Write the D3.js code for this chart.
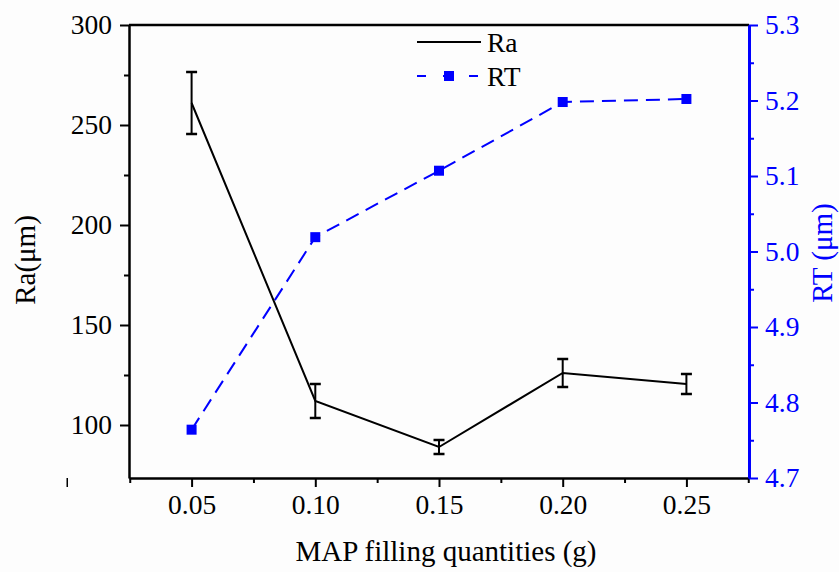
<!DOCTYPE html>
<html>
<head>
<meta charset="utf-8">
<script src="https://cdn.jsdelivr.net/npm/d3@7"></script>
<style>
  body { margin: 0; background: #fdfdfd; }
  svg text { font-family: "Liberation Serif", "Times New Roman", Tinos, "DejaVu Serif", serif !important; }
</style>
</head>
<body>
<svg id="chart" width="839" height="572"></svg>
<script>
// data
const quantities = [0.05, 0.10, 0.15, 0.20, 0.25];
const raValues = [261, 112, 89, 126, 120.5];
const raErrors = [15.5, 8.5, 3.5, 7, 5];
const rtValues = [4.764, 5.019, 5.107, 5.198, 5.202];
const xTicks = [0.05, 0.10, 0.15, 0.20, 0.25];
const raTicks = [100, 150, 200, 250, 300];
const rtTicks = [4.7, 4.8, 4.9, 5.0, 5.1, 5.2, 5.3];

const svg = d3.select('#chart');
const plotL = 129, plotR = 749, plotT = 25, plotB = 478;
const blue = '#0000ff';
const fs = 27.5, titleFs = 29;

const x = d3.scaleLinear().domain([0.0247, 0.2753]).range([plotL, plotR]);
const yRa = d3.scaleLinear().domain([73.5, 300]).range([plotB, plotT]);
const yRt = d3.scaleLinear().domain([4.7, 5.3]).range([plotB, plotT]);

// x axis (major + minor)
const xMinor = d3.range(0.025, 0.2751, 0.05);
svg.append('g').attr('transform', `translate(0,${plotB})`)
  .call(d3.axisBottom(x).tickValues(xMinor).tickSize(5).tickFormat(''))
  .call(g => g.select('.domain').remove())
  .call(g => g.selectAll('line').attr('stroke-width', 2));
const xAxis = svg.append('g').attr('transform', `translate(0,${plotB})`)
  .call(d3.axisBottom(x).tickValues(xTicks).tickSize(9).tickSizeOuter(0).tickPadding(7).tickFormat(d3.format('.2f')));
xAxis.select('.domain').attr('stroke-width', 2.5);
xAxis.selectAll('line').attr('stroke-width', 2);
xAxis.selectAll('text').attr('font-size', fs).attr('fill', '#000');

// left axis
const raMinor = d3.range(125, 300, 50);
svg.append('g').attr('transform', `translate(${plotL},0)`)
  .call(d3.axisLeft(yRa).tickValues(raMinor).tickSize(5).tickFormat(''))
  .call(g => g.select('.domain').remove())
  .call(g => g.selectAll('line').attr('stroke-width', 2));
const yAxisL = svg.append('g').attr('transform', `translate(${plotL},0)`)
  .call(d3.axisLeft(yRa).tickValues(raTicks).tickSize(9).tickSizeOuter(0).tickPadding(8));
yAxisL.select('.domain').attr('stroke-width', 2.5);
yAxisL.selectAll('line').attr('stroke-width', 2);
yAxisL.selectAll('text').attr('font-size', fs).attr('fill', '#000');

// stray mark under the left axis
svg.append('rect').attr('x', 66.5).attr('y', yRa(yRa.domain()[0])).attr('width', 1.5).attr('height', 9).attr('fill', '#000');

// top frame
svg.append('line').attr('x1', plotL).attr('x2', plotR).attr('y1', plotT).attr('y2', plotT)
  .attr('stroke', '#000').attr('stroke-width', 2.5);

// right axis (blue)
const rtMinor = d3.range(4.75, 5.3, 0.1);
svg.append('g').attr('transform', `translate(${plotR},0)`)
  .call(d3.axisRight(yRt).tickValues(rtMinor).tickSize(5).tickFormat(''))
  .call(g => g.select('.domain').remove())
  .call(g => g.selectAll('line').attr('stroke', blue).attr('stroke-width', 2));
const yAxisR = svg.append('g').attr('transform', `translate(${plotR},0)`)
  .call(d3.axisRight(yRt).tickValues(rtTicks).tickSize(9).tickSizeOuter(0).tickPadding(7).tickFormat(d3.format('.1f')));
yAxisR.select('.domain').attr('stroke', blue).attr('stroke-width', 3);
yAxisR.selectAll('line').attr('stroke', blue).attr('stroke-width', 2);
yAxisR.selectAll('text').attr('font-size', fs).attr('fill', blue);

// RT dashed line + squares
const rtData = quantities.map((q, i) => ({ q, v: rtValues[i] }));
svg.append('path').datum(rtData)
  .attr('d', d3.line().x(d => x(d.q)).y(d => yRt(d.v)))
  .attr('fill', 'none').attr('stroke', blue).attr('stroke-width', 2)
  .attr('stroke-dasharray', '14,8');
svg.selectAll('.rt-pt').data(rtData).join('rect')
  .attr('x', d => x(d.q) - 5).attr('y', d => yRt(d.v) - 5)
  .attr('width', 10).attr('height', 10).attr('fill', blue);

// Ra line + error bars
const raData = quantities.map((q, i) => ({ q, v: raValues[i], e: raErrors[i] }));
svg.append('path').datum(raData)
  .attr('d', d3.line().x(d => x(d.q)).y(d => yRa(d.v)))
  .attr('fill', 'none').attr('stroke', '#000').attr('stroke-width', 2);
const eb = svg.selectAll('.err').data(raData).join('g');
eb.append('line').attr('x1', d => x(d.q)).attr('x2', d => x(d.q))
  .attr('y1', d => yRa(d.v - d.e)).attr('y2', d => yRa(d.v + d.e))
  .attr('stroke', '#000').attr('stroke-width', 2);
eb.selectAll('.cap').data(d => [d.v - d.e, d.v + d.e].map(v => ({ q: d.q, v }))).join('line')
  .attr('x1', d => x(d.q) - 5.5).attr('x2', d => x(d.q) + 5.5)
  .attr('y1', d => yRa(d.v)).attr('y2', d => yRa(d.v))
  .attr('stroke', '#000').attr('stroke-width', 2.5);

// legend
const lg = svg.append('g');
lg.append('line').attr('x1', 417).attr('x2', 481).attr('y1', 42).attr('y2', 42)
  .attr('stroke', '#000').attr('stroke-width', 2);
lg.append('text').attr('x', 487).attr('y', 52).attr('font-size', fs).text('Ra');
lg.append('line').attr('x1', 417).attr('x2', 481).attr('y1', 76).attr('y2', 76)
  .attr('stroke', blue).attr('stroke-width', 2).attr('stroke-dasharray', '9,17');
lg.append('rect').attr('x', 444).attr('y', 71).attr('width', 10).attr('height', 10).attr('fill', blue);
lg.append('text').attr('x', 487).attr('y', 86).attr('font-size', fs).text('RT');

// axis titles
svg.append('text').attr('x', 446).attr('y', 561)
  .attr('text-anchor', 'middle').attr('font-size', titleFs).text('MAP filling quantities (g)');
svg.append('text').attr('transform', `translate(35,260) rotate(-90)`)
  .attr('text-anchor', 'middle').attr('font-size', titleFs).text('Ra(μm)');
svg.append('text').attr('transform', `translate(832,253) rotate(-90)`)
  .attr('text-anchor', 'middle').attr('font-size', titleFs).attr('fill', blue).text('RT (μm)');
</script>
</body>
</html>
